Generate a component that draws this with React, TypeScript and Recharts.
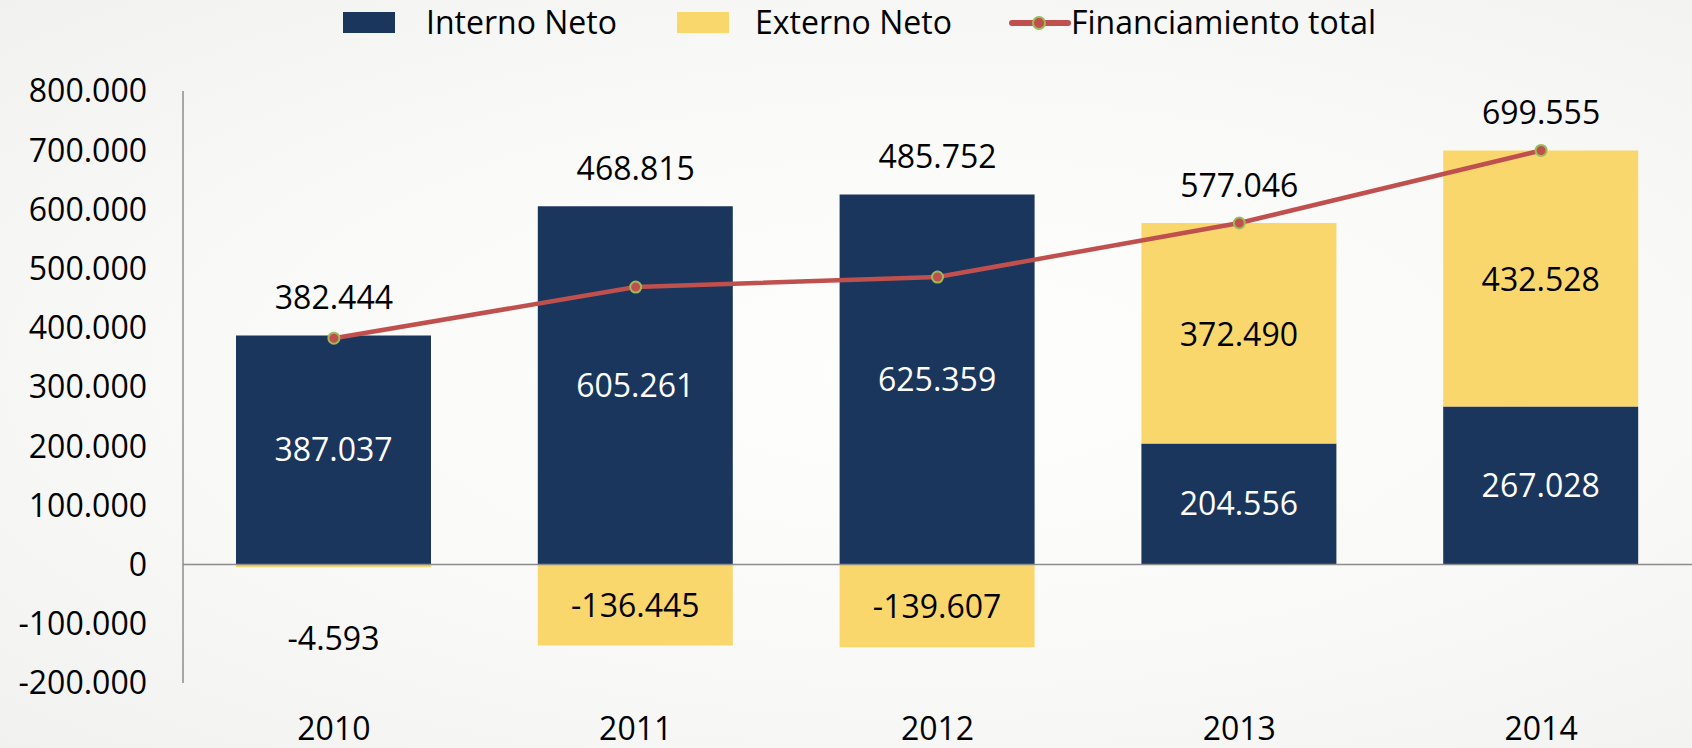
import {
  ComposedChart,
  Bar,
  Line,
  XAxis,
  YAxis,
  ReferenceLine,
  LabelList,
} from "recharts";

const years = ["2010", "2011", "2012", "2013", "2014"];
const internoNeto = [387037, 605261, 625359, 204556, 267028];
const externoNeto = [-4593, -136445, -139607, 372490, 432528];
const financiamientoTotal = [382444, 468815, 485752, 577046, 699555];
const yTicks = [-200000, -100000, 0, 100000, 200000, 300000, 400000, 500000, 600000, 700000, 800000];

const data = years.map((year, i) => ({
  year,
  interno: internoNeto[i],
  externo: externoNeto[i],
  total: financiamientoTotal[i],
  // total labels sit above whichever is higher: the point or the stacked bar
  labelAnchor: Math.max(financiamientoTotal[i], internoNeto[i] + Math.max(externoNeto[i], 0)),
}));

const NAVY = "#1B365D";
const YELLOW = "#F9D76D";
const RED = "#C0504D";
const GREEN = "#9BBB59";
const FONT = "'Open Sans', sans-serif";

const fmt = (v: number) => {
  const s = Math.abs(v).toString().replace(/\B(?=(\d{3})+(?!\d))/g, ".");
  return v < 0 ? "-" + s : s;
};

const renderExternoLabel = (props: any) => {
  const { x, y, width, height, value } = props;
  const top = Math.min(y, y + height);
  const bottom = Math.max(y, y + height);
  const small = bottom - top < 20;
  const cy = small ? bottom + 70 : (top + bottom) / 2;
  return (
    <text
      x={x + width / 2}
      y={cy}
      textAnchor="middle"
      dominantBaseline="central"
      fontSize={32}
      fontFamily={FONT}
      fill="#000"
    >
      {fmt(value)}
    </text>
  );
};

function LegendBar() {
  const text = { fontFamily: FONT, fontSize: 32, color: "#000", position: "absolute" as const, top: 1, lineHeight: "42px" };
  return (
    <div style={{ position: "absolute", left: 0, top: 0, width: 1692, height: 45 }}>
      <span style={{ position: "absolute", left: 343, top: 12, width: 52, height: 21, background: NAVY }} />
      <span style={{ ...text, left: 426 }}>Interno Neto</span>
      <span style={{ position: "absolute", left: 677, top: 12, width: 52, height: 21, background: YELLOW }} />
      <span style={{ ...text, left: 755 }}>Externo Neto</span>
      <svg style={{ position: "absolute", left: 1008, top: 10 }} width={64} height={26}>
        <line x1={4} y1={13} x2={60} y2={13} stroke={RED} strokeWidth={6} strokeLinecap="round" />
        <circle cx={31} cy={13} r={6} fill={RED} stroke={GREEN} strokeWidth={2} />
      </svg>
      <span style={{ ...text, left: 1071 }}>Financiamiento total</span>
    </div>
  );
}

export default function App() {
  return (
    <div
      style={{
        position: "absolute",
        left: 0,
        top: 0,
        width: 1692,
        height: 748,
        background: "radial-gradient(ellipse at 55% 50%, #fefefd 0%, #f9f9f8 55%, #f1f1f0 100%)",
        overflow: "hidden",
      }}
    >
      <LegendBar />
      <ComposedChart
        width={1692}
        height={748}
        data={data}
        stackOffset="sign"
        margin={{ top: 91, right: 0, bottom: 0, left: 0 }}
      >
        <XAxis
          dataKey="year"
          axisLine={false}
          tickLine={false}
          tickSize={0}
          tickMargin={34}
          height={65}
          tick={{ fontSize: 32, fill: "#000", fontFamily: FONT }}
        />
        <YAxis
          width={183}
          domain={[-200000, 800000]}
          ticks={yTicks}
          interval={0}
          tickFormatter={fmt}
          tickLine={false}
          tickSize={0}
          tickMargin={36}
          axisLine={{ stroke: "#8c8c8c", strokeWidth: 1.5 }}
          tick={{ fontSize: 32, fill: "#000", fontFamily: FONT }}
        />
        <ReferenceLine y={0} stroke="#8c8c8c" strokeWidth={1.5} />
        <Bar dataKey="interno" stackId="a" fill={NAVY} barSize={195} isAnimationActive={false}>
          <LabelList dataKey="interno" position="center" fill="#fff" fontSize={32} fontFamily={FONT} formatter={(v: any) => fmt(v)} />
        </Bar>
        <Bar dataKey="externo" stackId="a" fill={YELLOW} barSize={195} isAnimationActive={false}>
          <LabelList dataKey="externo" content={renderExternoLabel} />
        </Bar>
        <Line
          dataKey="total"
          type="linear"
          stroke={RED}
          strokeWidth={4.5}
          dot={{ r: 5.5, fill: RED, stroke: GREEN, strokeWidth: 2 }}
          activeDot={false}
          isAnimationActive={false}
        />
        <Line
          dataKey="labelAnchor"
          stroke="none"
          dot={false}
          activeDot={false}
          legendType="none"
          isAnimationActive={false}
        >
          <LabelList
            dataKey="total"
            position="top"
            offset={26}
            fill="#000"
            fontSize={32}
            fontFamily={FONT}
            formatter={(v: any) => fmt(v)}
          />
        </Line>
      </ComposedChart>
    </div>
  );
}
